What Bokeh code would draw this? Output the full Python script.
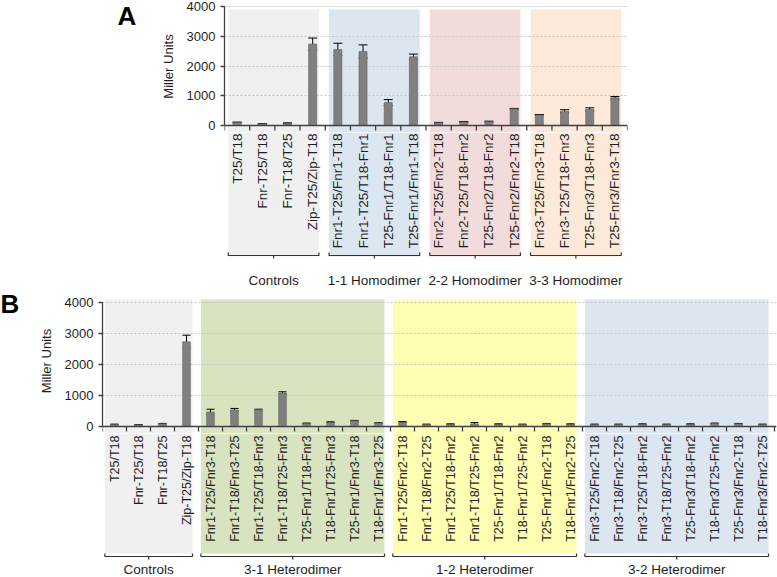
import numpy as np
from bokeh.plotting import figure
from bokeh.models import Range1d, FixedTicker, Whisker, TeeHead, ColumnDataSource, Span
from bokeh.layouts import column, row
from bokeh.core.properties import value
from bokeh.embed import file_html
from bokeh.resources import INLINE

FONT = "Liberation Sans"

# ---------------- data ----------------
A_labels = ["T25/T18", "Fnr-T25/T18", "Fnr-T18/T25", "Zip-T25/Zip-T18",
            "Fnr1-T25/Fnr1-T18", "Fnr1-T25/T18-Fnr1", "T25-Fnr1/T18-Fnr1", "T25-Fnr1/Fnr1-T18",
            "Fnr2-T25/Fnr2-T18", "Fnr2-T25/T18-Fnr2", "T25-Fnr2/T18-Fnr2", "T25-Fnr2/Fnr2-T18",
            "Fnr3-T25/Fnr3-T18", "Fnr3-T25/T18-Fnr3", "T25-Fnr3/T18-Fnr3", "T25-Fnr3/Fnr3-T18"]
A_values = [100, 55, 78, 2740, 2555, 2490, 770, 2310, 90, 120, 130, 560, 355, 480, 545, 930]
A_err = [15, 10, 12, 200, 210, 220, 100, 90, 15, 15, 15, 15, 15, 50, 50, 45]
A_groups = ["Controls", "1-1 Homodimer", "2-2 Homodimer", "3-3 Homodimer"]
A_group_sizes = [4, 4, 4, 4]
A_colors = ["#f0f0f0", "#dce6f1", "#f2dcdb", "#fde9d9"]

B_labels = ["T25/T18", "Fnr-T25/T18", "Fnr-T18/T25", "Zip-T25/Zip-T18",
            "Fnr1-T25/Fnr3-T18", "Fnr1-T18/Fnr3-T25", "Fnr1-T25/T18-Fnr3", "Fnr1-T18/T25-Fnr3",
            "T25-Fnr1/T18-Fnr3", "T18-Fnr1/T25-Fnr3", "T25-Fnr1/Fnr3-T18", "T18-Fnr1/Fnr3-T25",
            "Fnr1-T25/Fnr2-T18", "Fnr1-T18/Fnr2-T25", "Fnr1-T25/T18-Fnr2", "Fnr1-T18/T25-Fnr2",
            "T25-Fnr1/T18-Fnr2", "T18-Fnr1/T25-Fnr2", "T25-Fnr1/Fnr2-T18", "T18-Fnr1/Fnr2-T25",
            "Fnr3-T25/Fnr2-T18", "Fnr3-T18/Fnr2-T25", "Fnr3-T25/T18-Fnr2", "Fnr3-T18/T25-Fnr2",
            "T25-Fnr3/T18-Fnr2", "T18-Fnr3/T25-Fnr2", "T25-Fnr3/Fnr2-T18", "T18-Fnr3/Fnr2-T25"]
B_values = [65, 54, 87, 2730,
            467, 533, 543, 1080, 98, 141, 185, 109,
            141, 65, 76, 87, 76, 65, 87, 76,
            65, 65, 76, 65, 76, 98, 87, 65]
B_err = [12, 10, 12, 215,
         90, 50, 15, 40, 12, 12, 12, 12,
         20, 12, 12, 40, 12, 12, 12, 12,
         12, 12, 12, 12, 12, 12, 12, 12]
B_groups = ["Controls", "3-1 Heterodimer", "1-2 Heterodimer", "3-2 Heterodimer"]
B_group_sizes = [4, 8, 8, 8]
B_colors = ["#f0f0f0", "#d8e4bf", "#ffffb3", "#dce6f1"]

Y_TICKS = [0, 1000, 2000, 3000, 4000]

# ---------------- layout constants ----------------
TOTAL_W = 777
PAD = 7
AX = "#404040"
TXT = "#1e1e1e"

CFG_A = dict(letter_w=150, letter_x=117, letter_base=15,
             left=74, right=150, t4=6, pix4000=119, ppc=None,
             bot_h=156, inL=0.15, inR=0.25,
             shade_top_px=-3, shade_bot=131, lab_off=8, bracket=130, grp_off=155,
             lab_fs=13.5, cap=9)
CFG_B = dict(letter_w=20, letter_x=0, letter_base=15,
             left=82, right=1, t4=14, pix4000=124, ppc=24.0,
             bot_h=144, inL=0.1, inR=0.25,
             shade_top_px=3, shade_bot=127, lab_off=9, bracket=130, grp_off=143,
             lab_fs=12.5, cap=8)


def base_fig(**kw):
    p = figure(output_backend="svg", toolbar_location=None, outline_line_color=None,
               min_border_top=0, min_border_bottom=0, **kw)
    p.frame_align = False
    return p


def make_panel(letter, labels, values, errs, groups, sizes, colors, cfg):
    n = len(labels)
    xs = list(range(n))
    W = TOTAL_W - cfg["letter_w"]
    frame_w = W - cfg["left"] - cfg["right"]
    if cfg["ppc"] is None:
        xr = Range1d(-0.5, n - 0.5)
    else:
        xr = Range1d(-0.5, -0.5 + frame_w / cfg["ppc"])
    k = cfg["pix4000"] / 4000.0
    top_h = cfg["t4"] + cfg["pix4000"] + PAD
    y_end = 4000 + cfg["t4"] / k
    y_start = -PAD / k

    starts = np.concatenate([[0], np.cumsum(sizes)[:-1]])
    lefts = [s - 0.5 + cfg["inL"] for s in starts]
    rights = [s + m - 0.5 - cfg["inR"] for s, m in zip(starts, sizes)]
    centers = [(l + r) / 2 for l, r in zip(lefts, rights)]

    # ---- panel letter ----
    pl = base_fig(width=cfg["letter_w"], height=top_h,
                  x_range=Range1d(0, cfg["letter_w"]), y_range=Range1d(-top_h, 0),
                  x_axis_location=None, y_axis_location=None,
                  min_border_left=0, min_border_right=0)
    pl.grid.visible = False
    pl.text(x=[cfg["letter_x"]], y=[-cfg["letter_base"]], text=[letter],
            text_font=value(FONT), text_font_size=value("26px"),
            text_font_style="bold", text_align="left", text_baseline="alphabetic",
            text_color="black")

    # ---- top: plotting area ----
    pt = base_fig(width=W, height=top_h, x_range=xr, y_range=Range1d(y_start, y_end),
                  x_axis_location=None,
                  min_border_left=cfg["left"], min_border_right=cfg["right"])
    pt.xgrid.visible = False
    pt.ygrid.ticker = FixedTicker(ticks=Y_TICKS)
    pt.ygrid.grid_line_color = "#c4c4c4"
    pt.ygrid.grid_line_dash = "2 2"
    pt.ygrid.grid_line_width = 1

    shade_top = 4000 + cfg["shade_top_px"] / k
    pt.quad(left=lefts, right=rights, bottom=y_start, top=shade_top,
            fill_color=colors, line_color=None, level="image")

    pt.vbar(x=xs, top=values, bottom=0, width=0.32, fill_color="#808080",
            line_color="#5f5f5f", line_width=0.6)

    src = ColumnDataSource(dict(x=xs,
                                upper=[v + e for v, e in zip(values, errs)],
                                lower=[v - e for v, e in zip(values, errs)]))
    pt.add_layout(Whisker(source=src, base="x", upper="upper", lower="lower",
                          dimension="height", line_color="black", line_width=1,
                          upper_head=TeeHead(size=cfg["cap"], line_color="black", line_width=1),
                          lower_head=TeeHead(size=cfg["cap"], line_color="black", line_width=1)))

    # x axis line and boundary ticks
    pt.add_layout(Span(location=0, dimension="width", line_color=AX, line_width=1.3))
    bnd = [i - 0.5 for i in range(n + 1)]
    pt.segment(x0=bnd, y0=[0] * len(bnd), x1=bnd, y1=[-5 / k] * len(bnd),
               line_color=AX, line_width=1.3)

    ya = pt.yaxis[0]
    ya.ticker = FixedTicker(ticks=Y_TICKS)
    ya.bounds = (0, 4000)
    ya.axis_label = "Miller Units"
    ya.axis_label_text_font = FONT
    ya.axis_label_text_font_size = "13px"
    ya.axis_label_text_font_style = "normal"
    ya.axis_label_text_color = TXT
    ya.axis_label_standoff = 8
    ya.axis_line_color = AX
    ya.axis_line_width = 1.3
    ya.major_tick_line_color = AX
    ya.major_tick_line_width = 1.3
    ya.major_tick_out = 4
    ya.major_tick_in = 0
    ya.minor_tick_line_color = None
    ya.major_label_standoff = 5
    ya.major_label_text_font = FONT
    ya.major_label_text_font_size = "13px"
    ya.major_label_text_color = TXT

    # ---- bottom: category labels, brackets and group names ----
    bh = cfg["bot_h"]
    pb = base_fig(width=W, height=bh, x_range=xr, y_range=Range1d(-(PAD + bh), -PAD),
                  x_axis_location=None, y_axis_location=None,
                  min_border_left=cfg["left"], min_border_right=cfg["right"])
    pb.grid.visible = False
    pb.quad(left=lefts, right=rights, bottom=-cfg["shade_bot"], top=-PAD,
            fill_color=colors, line_color=None, level="image")
    pb.text(x=xs, y=[-cfg["lab_off"]] * n, text=labels, angle=np.pi / 2,
            text_align="right", text_baseline="middle", text_font=value(FONT),
            text_font_size=value(f"{cfg['lab_fs']}px"), text_color=TXT)

    by = -cfg["bracket"]
    bx, byy = [], []
    for l, r, c in zip(lefts, rights, centers):
        bx.append([l, l, c, c, c, r, r])
        byy.append([by + 3, by, by, by - 3, by, by, by + 3])
    pb.multi_line(xs=bx, ys=byy, line_color="#333333", line_width=1.2)

    pb.text(x=centers, y=[-cfg["grp_off"]] * len(groups), text=groups,
            text_align="center", text_baseline="middle", text_font=value(FONT),
            text_font_size=value("13.5px"), text_color=TXT)

    return row(column(pl, spacing=0), column(pt, pb, spacing=0), spacing=0)


panelA = make_panel("A", A_labels, A_values, A_err, A_groups, A_group_sizes, A_colors, CFG_A)
panelB = make_panel("B", B_labels, B_values, B_err, B_groups, B_group_sizes, B_colors, CFG_B)

p = column(panelA, panelB, spacing=0)

open("out.html", "w").write(file_html(p, INLINE))
